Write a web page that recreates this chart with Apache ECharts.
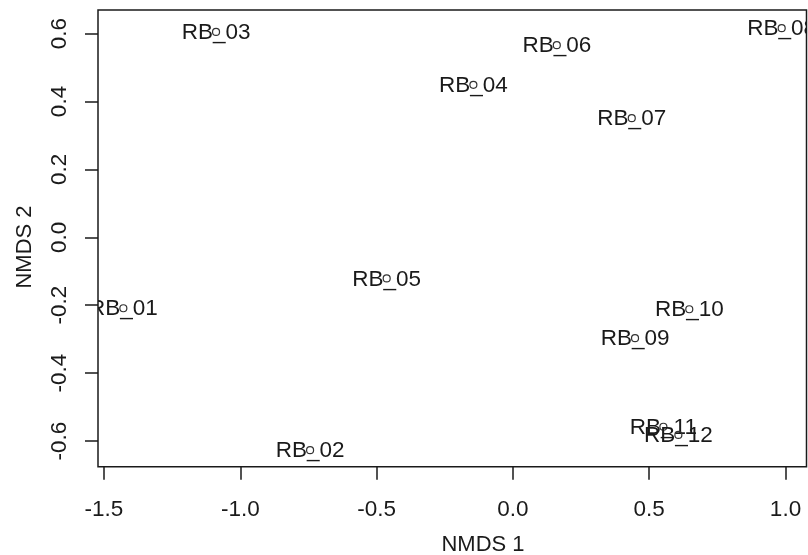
<!DOCTYPE html>
<html>
<head>
<meta charset="utf-8">
<script src="https://cdn.jsdelivr.net/npm/echarts@6/dist/echarts.min.js"></script>
<style>
  html, body { margin: 0; padding: 0; background: #fff; }
  #chart { width: 808px; height: 555px; }
</style>
</head>
<body>
<div id="chart"></div>
<script>
// NMDS site scores
const sites = ['RB_01', 'RB_02', 'RB_03', 'RB_04', 'RB_05', 'RB_06',
               'RB_07', 'RB_08', 'RB_09', 'RB_10', 'RB_11', 'RB_12'];
const nmds1 = [-1.429, -0.744, -1.089, -0.145, -0.463, 0.161,
               0.436, 0.986, 0.448, 0.647, 0.552, 0.607];
const nmds2 = [-0.209, -0.627, 0.605, 0.449, -0.121, 0.566,
               0.351, 0.616, -0.297, -0.212, -0.558, -0.582];
const xTicks = [-1.5, -1.0, -0.5, 0.0, 0.5, 1.0];
const yTicks = [-0.6, -0.4, -0.2, 0.0, 0.2, 0.4, 0.6];

const FONT = '"Liberation Sans", Arial, sans-serif';
const INK = '#1a1a1a';
const FS = 22.5;

const points = sites.map((s, i) => [nmds1[i], nmds2[i]]);

const chart = echarts.init(document.getElementById('chart'));
chart.setOption({
  backgroundColor: '#fff',
  animation: false,
  grid: {
    left: 98, top: 10, right: 1.5, bottom: 88.3,
    show: true, borderColor: INK, borderWidth: 1.5, backgroundColor: 'transparent'
  },
  xAxis: {
    type: 'value',
    min: -1.522, max: 1.077,
    axisLine: { show: false, onZero: false },
    splitLine: { show: false },
    axisTick: {
      show: true, inside: false, length: 13, customValues: xTicks,
      lineStyle: { color: INK, width: 1.5 }
    },
    axisLabel: {
      customValues: xTicks, margin: 32,
      color: INK, fontSize: FS, fontFamily: FONT,
      formatter: v => v.toFixed(1)
    }
  },
  yAxis: {
    type: 'value',
    min: -0.6757, max: 0.6695,
    axisLine: { show: false, onZero: false },
    splitLine: { show: false },
    axisTick: {
      show: true, inside: false, length: 13, customValues: yTicks,
      lineStyle: { color: INK, width: 1.5 }
    },
    axisLabel: {
      customValues: yTicks, margin: 27, rotate: 90,
      color: INK, fontSize: FS, fontFamily: FONT,
      formatter: v => v.toFixed(1)
    }
  },
  graphic: [
    {
      type: 'text', x: 483, y: 545,
      style: { text: 'NMDS 1', align: 'center', verticalAlign: 'middle',
               font: '22px ' + FONT, fill: INK }
    },
    {
      type: 'text', x: 24.5, y: 247, rotation: Math.PI / 2,
      style: { text: 'NMDS 2', align: 'center', verticalAlign: 'middle',
               font: '22px ' + FONT, fill: INK }
    }
  ],
  series: [{
    type: 'custom',
    clip: true,
    data: points,
    renderItem: function (params, api) {
      const p = api.coord([api.value(0), api.value(1)]);
      return {
        type: 'group',
        children: [
          {
            type: 'text',
            x: p[0], y: p[1] + 1,
            style: {
              text: sites[params.dataIndex],
              align: 'center', verticalAlign: 'middle',
              font: FS + 'px ' + FONT, fill: INK
            }
          },
          {
            type: 'circle',
            shape: { cx: p[0], cy: p[1], r: 3.5 },
            style: { fill: 'none', stroke: '#333', lineWidth: 1.2 }
          }
        ]
      };
    }
  }]
});
</script>
</body>
</html>
